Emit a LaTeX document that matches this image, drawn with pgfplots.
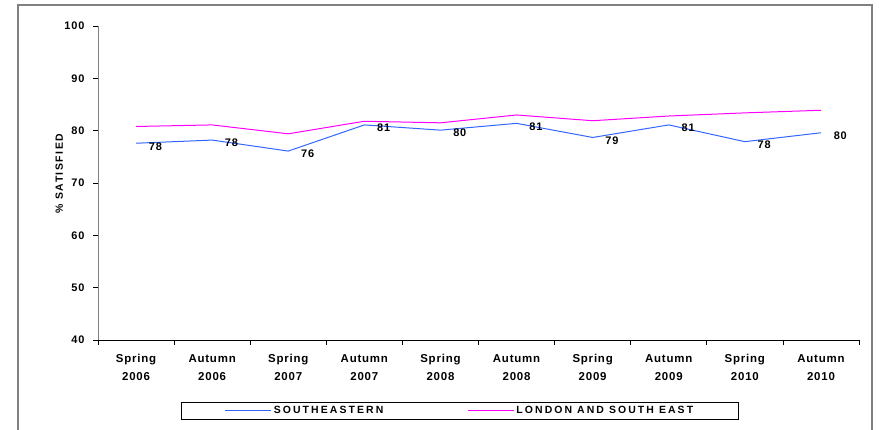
\documentclass[border=0pt]{standalone}
\usepackage{pgfplots}
\pgfplotsset{compat=1.18}
\usepackage{pgfplotstable}
\usepackage{fontspec}
\setmainfont{Liberation Sans}[LetterSpace=8]
\definecolor{seblue}{RGB}{51,102,255}
\definecolor{lsemag}{RGB}{255,0,255}
\definecolor{framegray}{RGB}{128,128,128}

\pgfplotstableread{
x    se    lse   lab
0.5  77.6  80.8  78
1.5  78.2  81.1  78
2.5  76.1  79.4  76
3.5  81.1  81.8  81
4.5  80.1  81.5  80
5.5  81.4  83.0  81
6.5  78.7  81.9  79
7.5  81.1  82.8  81
8.5  77.9  83.4  78
9.5  79.6  83.9  80
}\datatable

\begin{document}
\begin{tikzpicture}
\useasboundingbox (0bp,0bp) rectangle (880bp,430bp);
\draw[framegray, line width=1.3bp] (18bp,0bp) -- (18bp,425bp) -- (872bp,425bp) -- (872bp,0bp);
\begin{axis}[
  at={(98bp,90bp)}, anchor=south west,
  scale only axis, width=761bp, height=314bp,
  xmin=0, xmax=10, ymin=40, ymax=100,
  axis x line*=bottom, axis y line*=left,
  x axis line style={black, line width=0.9bp},
  y axis line style={framegray, line width=0.9bp},
  tick align=outside,
  xtick={0.5,1.5,2.5,3.5,4.5,5.5,6.5,7.5,8.5,9.5},
  xticklabels={{Spring\\2006},{Autumn\\2006},{Spring\\2007},{Autumn\\2007},{Spring\\2008},{Autumn\\2008},{Spring\\2009},{Autumn\\2009},{Spring\\2010},{Autumn\\2010}},
  major x tick style={draw=none},
  minor xtick={0,1,...,10},
  minor x tick style={black, line width=0.8bp},
  minor tick length=5bp,
  major tick length=5bp,
  xticklabel style={align=center, font=\fontsize{11.5}{18}\selectfont\bfseries\addfontfeature{LetterSpace=7}, yshift=-6bp},
  ytick={40,50,...,100},
  y tick style={black, line width=0.8bp},
  yticklabel style={font=\fontsize{11}{13}\selectfont\bfseries, xshift=-5bp},
  /pgf/number format/assume math mode=true,
  ylabel={\% SATISFIED},
  ylabel style={at={(axis description cs:-0.051,0.53)}, anchor=center, rotate=0, font=\fontsize{10.5}{12}\selectfont\bfseries\addfontfeature{LetterSpace=14}},
  legend columns=2,
  legend style={at={(axis description cs:0.4757,-0.226)}, anchor=center, draw=black, line width=0.8bp, fill=white,
    font=\fontsize{10.5}{12}\selectfont\bfseries\addfontfeature{LetterSpace=20}, inner xsep=43bp, inner ysep=2.5bp,
    /tikz/every even column/.append style={column sep=82bp}},
  legend image code/.code={\draw[#1] (0bp,0bp) -- (46bp,0bp);},
  clip=false,
]
\addplot[seblue, line width=1bp, nodes near coords, point meta=explicit symbolic,
  every node near coord/.append style={anchor=west, xshift=9bp, yshift=-3bp, black, font=\fontsize{11}{13}\selectfont\bfseries}]
  table[x=x, y=se, meta=lab] {\datatable};
\addlegendentry{SOUTHEASTERN}
\addplot[lsemag, line width=1bp] table[x=x, y=lse] {\datatable};
\addlegendentry{LONDON AND SOUTH EAST}
\end{axis}
\end{tikzpicture}
\end{document}
